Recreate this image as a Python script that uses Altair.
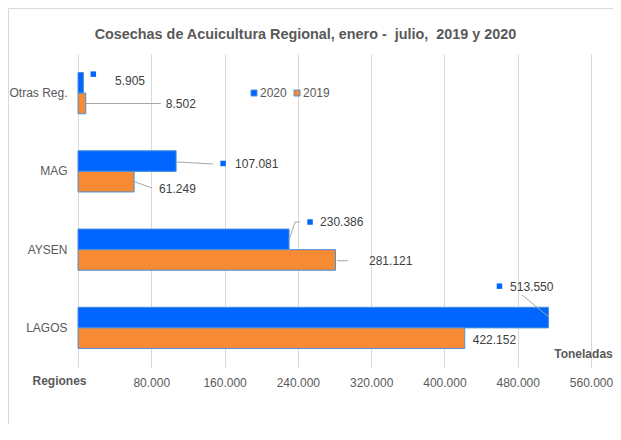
import altair as alt
import pandas as pd

# ---------------- data ----------------
regions = ['Otras Reg.', 'MAG', 'AYSEN', 'LAGOS']
years = ['2020', '2019']
cosecha_2020 = [5905, 107081, 230386, 513550]
cosecha_2019 = [8502, 61249, 281121, 422152]
x_ticks = [0, 80000, 160000, 240000, 320000, 400000, 480000, 560000]
chart_title = 'Cosechas de Acuicultura Regional, enero -\u00a0 julio,\u00a0 2019 y 2020'

# ---------------- style ----------------
W, H = 513, 313
PAD = {'left': 70, 'top': 46, 'right': 22, 'bottom': 57}
BLUE, ORANGE = '#0066FF', '#F68B33'
GREY_TXT, LABEL_TXT, GRID, LEADER = '#595959', '#404040', '#D9D9D9', '#A6A6A6'
FONT = 'Liberation Sans'

# label layout in pixels, relative to bar end (x) and band centre (y)
label_style = {
    ('Otras Reg.', '2020'): dict(tdx=31.6, tdy=-12.4, sq=(9.9, -19.0), lines=[]),
    ('Otras Reg.', '2019'): dict(tdx=80, tdy=11, sq=None, lines=[(0, 10.4, 75, 10.4)]),
    ('MAG', '2020'): dict(tdx=59, tdy=-7.4, sq=(47, -7.9), lines=[(0, -9.4, 37, -7.4)]),
    ('MAG', '2019'): dict(tdx=25, tdy=17.6, sq=None, lines=[(1, 10.6, 18, 16.6)]),
    ('AYSEN', '2020'): dict(tdx=31, tdy=-27.3, sq=(21, -27.6),
                            lines=[(0, -9.6, 6, -27.6), (6, -27.6, 11, -27.6)]),
    ('AYSEN', '2019'): dict(tdx=33.5, tdy=11.1, sq=None, lines=[(1.5, 11.1, 12.5, 11.1)]),
    ('LAGOS', '2020'): dict(tdx=-38.4, tdy=-41.2, sq=(-49, -41.7), lines=[(0, -11.2, -26.5, -33)]),
    ('LAGOS', '2019'): dict(tdx=8, tdy=12.1, sq=None, lines=[]),
}

df = pd.DataFrame({
    'region': regions * 2,
    'year': [years[0]] * len(regions) + [years[1]] * len(regions),
    'value': cosecha_2020 + cosecha_2019,
})

base = alt.Chart(df)

x_enc = alt.X(
    'value:Q',
    scale=alt.Scale(domain=[x_ticks[0], x_ticks[-1]], nice=False, zero=True),
    axis=alt.Axis(
        values=x_ticks,
        labelExpr="datum.value == 0 ? '' : replace(format(datum.value, ','), ',', '.')",
        labelFlush=False,
        grid=True, gridColor=GRID, ticks=False, domain=False,
        labelPadding=10, labelFontSize=12, labelColor=GREY_TXT, labelFont=FONT,
        title='Toneladas', titleX=505, titleY=-14, titleAlign='center',
        titleBaseline='middle', titleFontSize=12, titleFontWeight='bold',
        titleColor=GREY_TXT, titleFont=FONT,
    ),
)
y_enc = alt.Y(
    'region:N', sort=regions,
    scale=alt.Scale(paddingInner=0.474, paddingOuter=0.237),
    axis=alt.Axis(
        ticks=False, domain=False, grid=False, labelPadding=11,
        labelFontSize=12, labelColor=GREY_TXT, labelFont=FONT,
        title='Regiones', titleAngle=0, titleX=-19, titleY=326,
        titleAlign='center', titleBaseline='middle', titleFontSize=12,
        titleFontWeight='bold', titleColor=GREY_TXT, titleFont=FONT,
    ),
)

bars = base.mark_bar(stroke='#4A90D9', strokeWidth=1).encode(
    x=x_enc,
    y=y_enc,
    yOffset=alt.YOffset('year:N', sort=years),
    color=alt.Color(
        'year:N', sort=years,
        scale=alt.Scale(domain=years, range=[BLUE, ORANGE]),
        legend=alt.Legend(
            orient='none', legendX=170, legendY=33, direction='horizontal',
            title=None, symbolType='square', symbolSize=36, labelFontSize=12,
            labelColor=GREY_TXT, labelFont=FONT, labelOffset=0, columnPadding=4,
            symbolStrokeWidth=1,
        ),
    ),
)

layers = [bars]
for (reg, yr), st in label_style.items():
    sel = base.transform_filter(f"datum.region == '{reg}' && datum.year == '{yr}'")
    for (x0, y0, x1, y1) in st['lines']:
        layers.append(
            sel.mark_rule(color=LEADER, strokeWidth=1,
                          xOffset=x0, yOffset=y0, x2Offset=x1, y2Offset=y1).encode(
                x=x_enc, x2=alt.X2('value:Q'), y=y_enc, y2=alt.Y2('region:N'))
        )
    if st['sq'] is not None:
        layers.append(
            sel.mark_point(shape='square', filled=True, size=30, color=BLUE, opacity=1,
                           xOffset=st['sq'][0], yOffset=st['sq'][1]).encode(x=x_enc, y=y_enc)
        )
    layers.append(
        sel.transform_calculate(label="replace(format(datum.value, ','), ',', '.')")
        .mark_text(align='left', baseline='middle', dx=st['tdx'], dy=st['tdy'],
                   fontSize=12, font=FONT, color=LABEL_TXT)
        .encode(x=x_enc, y=y_enc, text='label:N')
    )

# outer chart-area frame (Excel style)
frame_src = alt.Chart(pd.DataFrame({'k': [0]}))
frame_left = frame_src.mark_rule(color=GRID, strokeWidth=1).encode(
    x=alt.value(-PAD['left'] + 0.5), y=alt.value(-PAD['top'] + 0.5), y2=alt.value(H + PAD['bottom']))
frame_top = frame_src.mark_rule(color=GRID, strokeWidth=1).encode(
    x=alt.value(-PAD['left'] + 0.5), x2=alt.value(W + PAD['right']), y=alt.value(-PAD['top'] + 0.5))
layers += [frame_left, frame_top]

chart = alt.layer(*layers).properties(
    width=W, height=H,
    title=alt.TitleParams(chart_title, fontSize=14.4, fontWeight='bold', color=GREY_TXT,
                          font=FONT, anchor='middle', frame='group', dx=-29, offset=12, dy=46),
    autosize=alt.AutoSizeParams(type='none'),
    padding=PAD,
    background='white',
).configure_view(stroke=None)

chart.save('out.html', embed_options={'renderer': 'svg', 'actions': False})
